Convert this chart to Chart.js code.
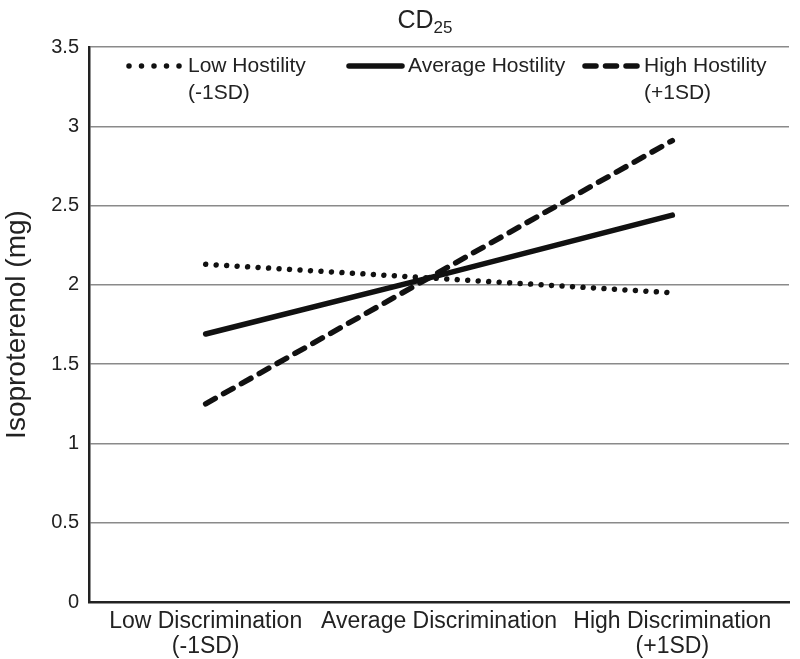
<!DOCTYPE html>
<html>
<head>
<meta charset="utf-8">
<script src="https://cdn.jsdelivr.net/npm/chart.js@4.4.1/dist/chart.umd.min.js"></script>
<style>
html, body { margin: 0; padding: 0; background: #fff; }
#wrap { width: 800px; height: 659px; }
</style>
</head>
<body>
<div id="wrap"><canvas id="myChart"></canvas></div>
<script>
// data
var categories = [['Low Discrimination', '(-1SD)'], 'Average Discrimination', ['High Discrimination', '(+1SD)']];
var seriesNames = [['Low Hostility', '(-1SD)'], ['Average Hostility'], ['High Hostility', '(+1SD)']];
var lowHostility = [2.13, 2.04, 1.95];
var avgHostility = [1.69, 2.06, 2.44];
var highHostility = [1.25, 2.08, 2.91];
var yMin = 0, yMax = 3.5, yStep = 0.5;

var FONT = '"Liberation Sans", Arial, sans-serif';
Chart.defaults.font.family = FONT;
Chart.defaults.color = '#222';

// title with subscript, chart.js title can't do that
var titlePlugin = {
    id: 'cdTitle',
    afterDraw: function(chart) {
        var ctx = chart.ctx;
        ctx.save();
        ctx.fillStyle = '#222';
        ctx.textBaseline = 'alphabetic';
        ctx.font = '25px ' + FONT;
        var w1 = ctx.measureText('CD').width;
        ctx.font = '17px ' + FONT;
        var w2 = ctx.measureText('25').width;
        var x = 425 - (w1 + w2) / 2;
        ctx.font = '25px ' + FONT;
        ctx.fillText('CD', x, 28);
        ctx.font = '17px ' + FONT;
        ctx.fillText('25', x + w1, 33);
        ctx.restore();
    }
};

// legend inside the plot, two-line labels
var legendX = [127, 347, 583];
var legendPlugin = {
    id: 'lineLegend',
    afterDraw: function(chart) {
        var ctx = chart.ctx;
        ctx.save();
        ctx.font = '21px ' + FONT;
        ctx.textBaseline = 'middle';
        ctx.fillStyle = '#222';
        chart.data.datasets.forEach(function(ds, i) {
            var x = legendX[i], y = 66;
            ctx.beginPath();
            ctx.strokeStyle = ds.borderColor;
            ctx.lineWidth = ds.borderWidth;
            ctx.lineCap = ds.borderCapStyle || 'butt';
            ctx.setLineDash(i == 0 ? [0.001, 12.5] : (ds.borderDash || []));
            ctx.moveTo(x + 2, y);
            ctx.lineTo(x + 55, y);
            ctx.stroke();
            ctx.setLineDash([]);
            for (var k = 0; k < seriesNames[i].length; k++) {
                ctx.fillText(seriesNames[i][k], x + 61, y + k * 27);
            }
        });
        ctx.restore();
    }
};

var ctx = document.getElementById('myChart').getContext('2d');
var myChart = new Chart(ctx, {
    type: 'line',
    data: {
        labels: categories,
        datasets: [{
            label: 'Low Hostility (-1SD)',
            data: lowHostility,
            borderColor: '#111',
            borderWidth: 5.5,
            borderDash: [0.001, 10.5],
            borderCapStyle: 'round',
            pointRadius: 0,
            fill: false
        }, {
            label: 'Average Hostility',
            data: avgHostility,
            borderColor: '#111',
            borderWidth: 5.5,
            borderCapStyle: 'round',
            pointRadius: 0,
            fill: false
        }, {
            label: 'High Hostility (+1SD)',
            data: highHostility,
            borderColor: '#111',
            borderWidth: 5.5,
            borderDash: [11, 9.5],
            borderCapStyle: 'round',
            pointRadius: 0,
            fill: false
        }]
    },
    options: {
        responsive: true,
        maintainAspectRatio: false,
        animation: false,
        devicePixelRatio: 1,
        layout: { padding: { left: 0, right: 11, top: 47, bottom: 0 } },
        plugins: {
            legend: { display: false },
            tooltip: { enabled: false }
        },
        scales: {
            x: {
                offset: true,
                grid: { drawOnChartArea: false, drawTicks: false },
                border: { color: '#222', width: 2.5 },
                ticks: {
                    font: { size: 23, lineHeight: 1.1 },
                    color: '#222',
                    padding: 7,
                    maxRotation: 0,
                    autoSkip: false
                },
                afterFit: function(scale) { scale.height = 57; }
            },
            y: {
                min: yMin,
                max: yMax,
                grid: { color: '#8a8a8a', lineWidth: 1.5, drawTicks: false },
                border: { color: '#222', width: 2.5 },
                ticks: {
                    stepSize: yStep,
                    padding: 10,
                    font: { size: 20 },
                    color: '#222',
                    callback: function(v) { return String(v); }
                },
                title: {
                    display: true,
                    text: 'Isoproterenol (mg)',
                    font: { size: 28 },
                    color: '#222',
                    padding: 0
                },
                afterFit: function(scale) { scale.width = 89; }
            }
        }
    },
    plugins: [titlePlugin, legendPlugin]
});
</script>
</body>
</html>
